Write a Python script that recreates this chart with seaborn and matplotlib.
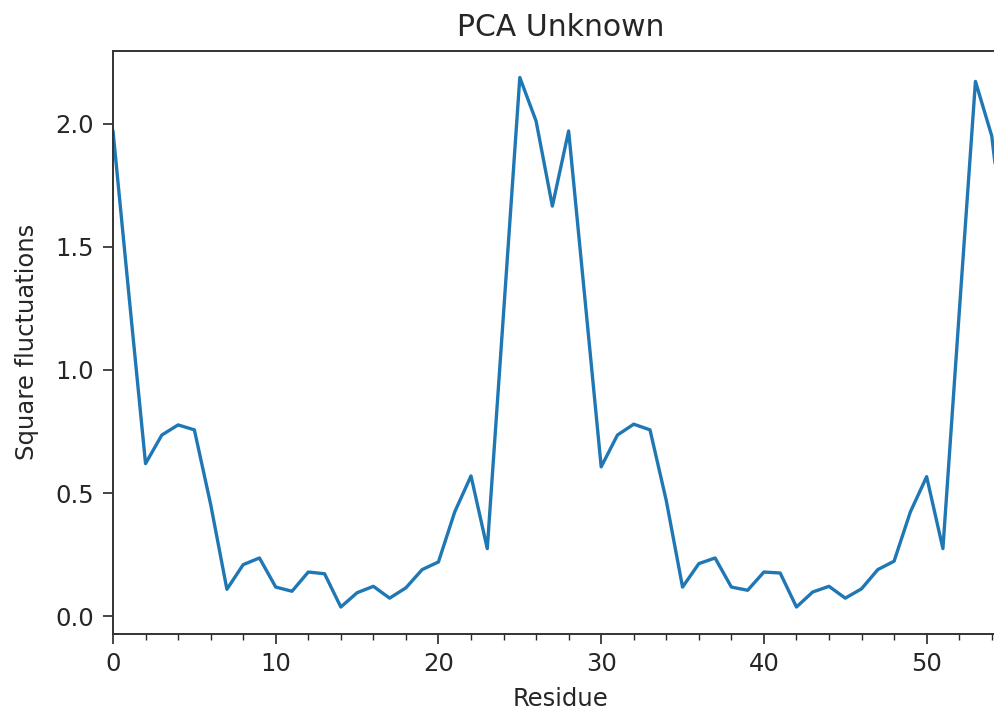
import numpy as np
import pandas as pd
import matplotlib
matplotlib.use("Agg")
import matplotlib.pyplot as plt
from matplotlib.ticker import MultipleLocator
import seaborn as sns

# Data
residues = list(range(56))
fluctuations = [
    1.97, 1.29, 0.62, 0.736, 0.777, 0.757, 0.455, 0.110, 0.210, 0.237,
    0.119, 0.102, 0.180, 0.173, 0.038, 0.096, 0.122, 0.074, 0.116, 0.190,
    0.221, 0.424, 0.570, 0.275, 1.23, 2.187, 2.01, 1.665, 1.97, 1.29,
    0.607, 0.736, 0.780, 0.757, 0.470, 0.119, 0.214, 0.237, 0.119, 0.106,
    0.180, 0.176, 0.038, 0.099, 0.122, 0.074, 0.112, 0.190, 0.224, 0.424,
    0.567, 0.275, 1.23, 2.171, 1.95, 1.40,
]
title = "PCA Unknown"
xlabel = "Residue"
ylabel = "Square fluctuations"

df = pd.DataFrame({"Residue": residues, "Fluct": fluctuations})

sns.set_style("ticks")
plt.rcParams["font.family"] = ["DejaVu Sans"]
plt.rcParams["text.color"] = "#262626"
plt.rcParams["axes.labelcolor"] = "#262626"
plt.rcParams["xtick.color"] = "#262626"
plt.rcParams["ytick.color"] = "#262626"

fig = plt.figure(figsize=(9.95, 7.15), dpi=100)
ax = fig.add_axes([113 / 995, (715 - 633.5) / 715, (1008 - 113) / 995, (633.5 - 51) / 715])

sns.lineplot(data=df, x="Residue", y="Fluct", ax=ax, color="#1f77b4", linewidth=2.4)

ax.set_xlim(0, 55)
ax.xaxis.set_major_locator(MultipleLocator(10))
ax.xaxis.set_minor_locator(MultipleLocator(2))
ax.yaxis.set_major_locator(MultipleLocator(0.5))

for s in ax.spines.values():
    s.set_color("#333333")
    s.set_linewidth(1.4)

ax.tick_params(axis="both", which="major", direction="out", length=7, width=1.2,
               labelsize=17.5, pad=6.5, colors="#262626")
ax.tick_params(axis="x", which="minor", direction="out", length=4.5, width=1.0, colors="#262626")

ax.set_xlabel(xlabel, fontsize=17.5, labelpad=8)
ax.set_ylabel(ylabel, fontsize=17.5, labelpad=12)
ax.set_title(title, fontsize=21.5, pad=11)

fig.savefig("out.png", dpi=100)
